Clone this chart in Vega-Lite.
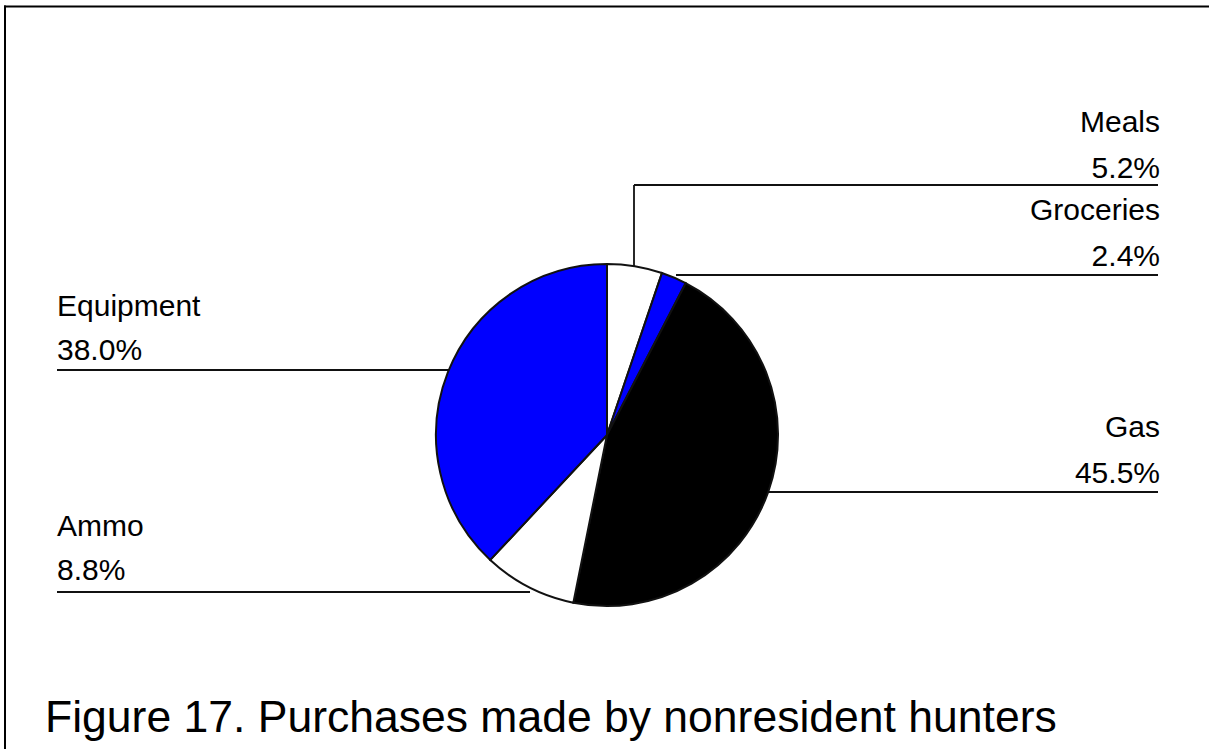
{
  "$schema": "https://vega.github.io/schema/vega-lite/v6.json",
  "width": 1209,
  "height": 749,
  "autosize": {"type": "fit", "contains": "padding"},
  "padding": 0,
  "background": "white",
  "config": {"view": {"stroke": null}},
  "datasets": {
    "slices": [
      {"category": "Meals", "value": 5.2, "order": 1},
      {"category": "Groceries", "value": 2.4, "order": 2},
      {"category": "Gas", "value": 45.5, "order": 3},
      {"category": "Ammo", "value": 8.8, "order": 4},
      {"category": "Equipment", "value": 38.0, "order": 5}
    ],
    "labels": [
      {"category": "Meals", "pct": "5.2%", "side": "right", "x": 1160, "y": 178},
      {"category": "Groceries", "pct": "2.4%", "side": "right", "x": 1160, "y": 266},
      {"category": "Gas", "pct": "45.5%", "side": "right", "x": 1160, "y": 483},
      {"category": "Equipment", "pct": "38.0%", "side": "left", "x": 57, "y": 360},
      {"category": "Ammo", "pct": "8.8%", "side": "left", "x": 57, "y": 580}
    ],
    "hleaders": [
      {"category": "Meals", "x": 634, "x2": 1158, "y": 185},
      {"category": "Groceries", "x": 676, "x2": 1158, "y": 275},
      {"category": "Gas", "x": 765, "x2": 1158, "y": 492},
      {"category": "Equipment", "x": 57, "x2": 452, "y": 370},
      {"category": "Ammo", "x": 57, "x2": 530, "y": 592}
    ],
    "vleaders": [
      {"category": "Meals", "x": 634, "y": 185, "y2": 266}
    ],
    "hframe": [{"x": 4, "x2": 1209, "y": 5.5, "y2": 7.5}],
    "vframe": [{"x": 4, "x2": 6, "y": 5.5, "y2": 749}]
  },
  "layer": [
    {
      "data": {"name": "hframe"},
      "mark": {"type": "rect", "color": "black"},
      "encoding": {
        "x": {"field": "x", "type": "quantitative", "scale": {"domain": [0, 1209], "nice": false, "zero": false}, "axis": null},
        "y": {"field": "y", "type": "quantitative", "scale": {"domain": [0, 749], "nice": false, "zero": false, "reverse": true}, "axis": null},
        "x2": {"field": "x2"},
        "y2": {"field": "y2"}
      }
    },
    {
      "data": {"name": "vframe"},
      "mark": {"type": "rect", "color": "black"},
      "encoding": {
        "x": {"field": "x", "type": "quantitative"},
        "y": {"field": "y", "type": "quantitative"},
        "x2": {"field": "x2"},
        "y2": {"field": "y2"}
      }
    },
    {
      "data": {"name": "hleaders"},
      "mark": {"type": "rule", "color": "#111111", "strokeWidth": 1.8},
      "encoding": {
        "x": {"field": "x", "type": "quantitative"},
        "y": {"field": "y", "type": "quantitative"},
        "x2": {"field": "x2"}
      }
    },
    {
      "data": {"name": "vleaders"},
      "mark": {"type": "rule", "color": "#111111", "strokeWidth": 1.8},
      "encoding": {
        "x": {"field": "x", "type": "quantitative"},
        "y": {"field": "y", "type": "quantitative"},
        "y2": {"field": "y2"}
      }
    },
    {
      "data": {"name": "slices"},
      "mark": {"type": "arc", "outerRadius": 171, "stroke": "#111111", "strokeWidth": 2},
      "encoding": {
        "x": {"datum": 607, "type": "quantitative"},
        "y": {"datum": 435, "type": "quantitative"},
        "theta": {"field": "value", "type": "quantitative", "stack": true},
        "order": {"field": "order", "type": "quantitative"},
        "color": {
          "field": "category",
          "type": "nominal",
          "scale": {"domain": ["Meals", "Groceries", "Gas", "Ammo", "Equipment"], "range": ["#ffffff", "#0000ff", "#000000", "#ffffff", "#0000ff"]},
          "legend": null
        }
      }
    },
    {
      "data": {"name": "labels"},
      "transform": [{"filter": "datum.side === 'right'"}],
      "mark": {"type": "text", "align": "right", "baseline": "alphabetic", "font": "Liberation Sans", "fontSize": 30, "color": "black"},
      "encoding": {
        "x": {"field": "x", "type": "quantitative"},
        "y": {"field": "y", "type": "quantitative"},
        "text": {"field": "pct"}
      }
    },
    {
      "data": {"name": "labels"},
      "transform": [{"filter": "datum.side === 'right'"}],
      "mark": {"type": "text", "align": "right", "baseline": "alphabetic", "font": "Liberation Sans", "fontSize": 30, "color": "black", "dy": -46},
      "encoding": {
        "x": {"field": "x", "type": "quantitative"},
        "y": {"field": "y", "type": "quantitative"},
        "text": {"field": "category"}
      }
    },
    {
      "data": {"name": "labels"},
      "transform": [{"filter": "datum.side === 'left'"}],
      "mark": {"type": "text", "align": "left", "baseline": "alphabetic", "font": "Liberation Sans", "fontSize": 30, "color": "black"},
      "encoding": {
        "x": {"field": "x", "type": "quantitative"},
        "y": {"field": "y", "type": "quantitative"},
        "text": {"field": "pct"}
      }
    },
    {
      "data": {"name": "labels"},
      "transform": [{"filter": "datum.side === 'left'"}],
      "mark": {"type": "text", "align": "left", "baseline": "alphabetic", "font": "Liberation Sans", "fontSize": 30, "color": "black", "dy": -44},
      "encoding": {
        "x": {"field": "x", "type": "quantitative"},
        "y": {"field": "y", "type": "quantitative"},
        "text": {"field": "category"}
      }
    },
    {
      "data": {"values": [{"title": "Figure 17. Purchases made by nonresident hunters", "x": 45, "y": 732}]},
      "mark": {"type": "text", "align": "left", "baseline": "alphabetic", "font": "Liberation Sans", "fontSize": 44.5, "color": "black"},
      "encoding": {
        "x": {"field": "x", "type": "quantitative"},
        "y": {"field": "y", "type": "quantitative"},
        "text": {"field": "title"}
      }
    }
  ]
}
